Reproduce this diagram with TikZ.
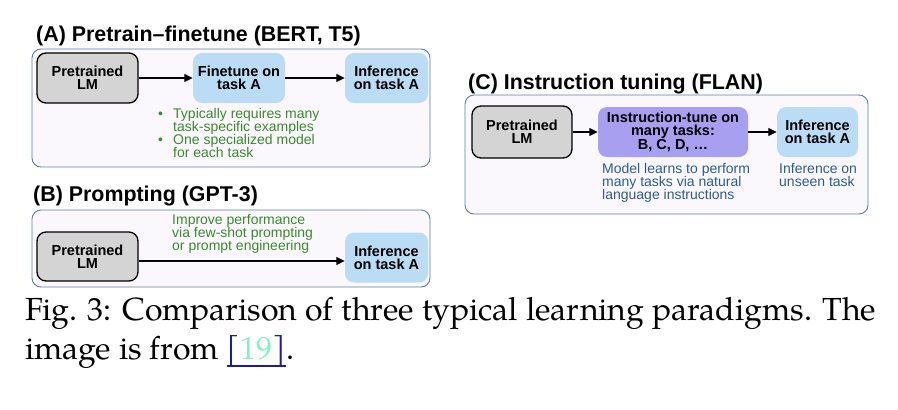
\documentclass[tikz,border=0pt]{standalone}
\usepackage{fontspec}
\usetikzlibrary{arrows.meta}
\newfontfamily\arialfont{Liberation Sans}
\newfontfamily\capfont{TeX Gyre Pagella}
\newcommand\myciteul[1]{\setbox0\hbox{#1}\rlap{\rule[-0.24em]{\wd0}{0.04em}}\box0}
\definecolor{panelfill}{HTML}{FAF8FD}
\definecolor{paneldraw}{HTML}{5B7EAA}
\definecolor{grayfill}{HTML}{D4D4D4}
\definecolor{bluefill}{HTML}{BADCF5}
\definecolor{purplefill}{HTML}{A89FF0}
\definecolor{greentext}{HTML}{3B8A2B}
\definecolor{bluetext}{HTML}{2B5C96}
\definecolor{navy}{HTML}{1C1CA0}
\definecolor{mint}{HTML}{85F0C0}
\tikzset{
  panel/.style={draw=paneldraw, fill=panelfill, rounded corners=9pt, line width=0.9pt},
  boxtext/.style={font=\arialfont\bfseries\fontsize{14.5}{13}\selectfont, align=center, inner sep=0pt, rounded corners=9pt},
  lmbox/.style={boxtext, draw=black, fill=grayfill, line width=1.3pt},
  bluebox/.style={boxtext, fill=bluefill},
  purplebox/.style={boxtext, fill=purplefill},
  arr/.style={-{Triangle[length=8.5pt,width=8pt]}, line width=1.3pt},
  title/.style={anchor=base west, inner sep=0pt, font=\arialfont\bfseries\fontsize{21.4}{24}\selectfont},
  note/.style={anchor=west, inner sep=0pt, align=left, font=\arialfont\fontsize{14}{13.3}\selectfont},
  captext/.style={anchor=base west, inner sep=0pt, font=\capfont\fontsize{32}{38}\selectfont},
}
\begin{document}
\begin{tikzpicture}[x=1pt,y=-1pt]
\useasboundingbox (0,0) rectangle (898,410);
% Panel A
\node[title] (tA) at (36,41) {(A) Pretrain–finetune (BERT, T5)};
\draw[panel] (32,49) rectangle (430,167);
\node[lmbox, minimum width=101pt, minimum height=50pt] (a1) at (87.5,78) {Pretrained\\LM};
\node[bluebox, minimum width=92pt, minimum height=50pt] (a2) at (239,78) {Finetune on\\task A};
\node[bluebox, minimum width=83pt, minimum height=50pt] (a3) at (386.5,78) {Inference\\on task A};
\draw[arr] (a1) -- (a2);
\draw[arr] (a2) -- (a3);
\node[note, text=greentext] (a4) at (158,115) {•};
\node[note, text=greentext, anchor=north west] (a5) at (173,108) {Typically requires many\\task-specific examples};
\node[note, text=greentext] (a6) at (158,141) {•};
\node[note, text=greentext, anchor=north west] (a7) at (173,134) {One specialized model\\for each task};
% Panel B
\node[title] (tB) at (33,201) {(B) Prompting (GPT-3)};
\draw[panel] (32,210) rectangle (430,287);
\node[lmbox, minimum width=101pt, minimum height=49pt] (b1) at (87.5,256.5) {Pretrained\\LM};
\node[bluebox, minimum width=83pt, minimum height=50pt] (b2) at (386.5,257.5) {Inference\\on task A};
\draw[arr] (b1.east |- 0,261) -- (b2.west |- 0,261);
\node[note, text=greentext, anchor=north west] (b3) at (172,214) {Improve performance\\via few-shot prompting\\or prompt engineering};
% Panel C
\node[title] (tC) at (468,89) {(C) Instruction tuning (FLAN)};
\draw[panel] (465,95) rectangle (868,214);
\node[lmbox, minimum width=100pt, minimum height=52pt] (c1) at (522,132) {Pretrained\\LM};
\node[purplebox, minimum width=150pt, minimum height=50pt] (c2) at (673,132) {Instruction-tune on\\many tasks:\\B, C, D, …};
\node[bluebox, minimum width=81pt, minimum height=50pt] (c3) at (817.5,132) {Inference\\on task A};
\draw[arr] (c1) -- (c2);
\draw[arr] (c2) -- (c3);
\node[note, text=bluetext, anchor=north west] (c4) at (602,163) {Model learns to perform\\many tasks via natural\\language instructions};
\node[note, text=bluetext, anchor=north west] (c5) at (779,163) {Inference on\\unseen task};
% Caption
\node[captext] (cap1) at (25,320) {Fig. 3: Comparison of three typical learning paradigms. The};
\node[captext] (cap2) at (25,359) {image is from {\color{navy}\myciteul{[\textcolor{mint}{19}]}}.};
\end{tikzpicture}
\end{document}
